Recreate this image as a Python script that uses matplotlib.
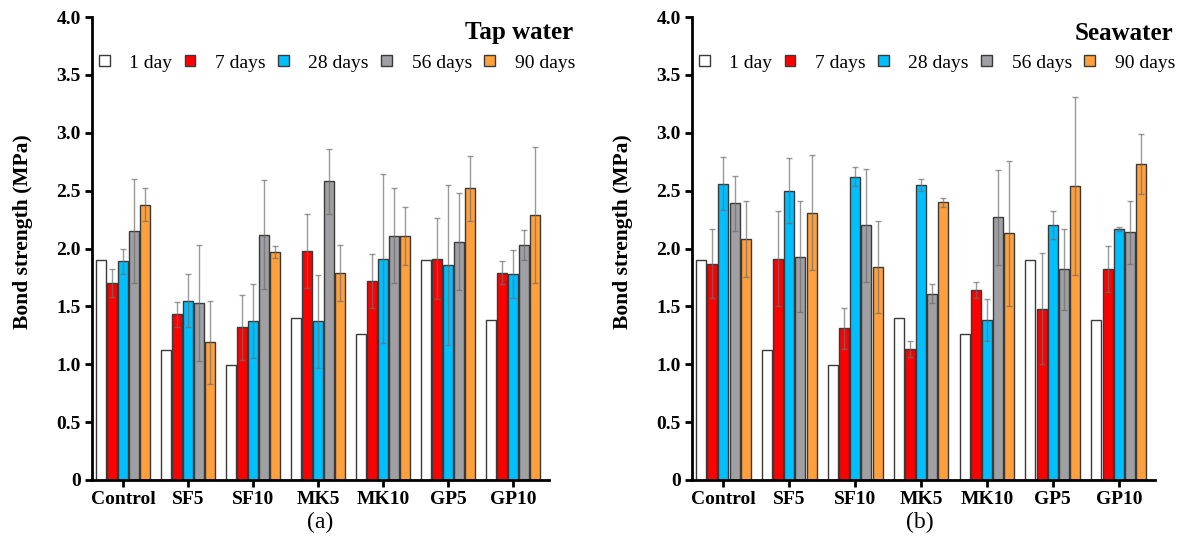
import numpy as np
import matplotlib
matplotlib.use('Agg')
import matplotlib.pyplot as plt

# 字体：Times 风格
plt.rcParams['font.family'] = ['Liberation Serif', 'DejaVu Serif']

# 数据
groups = ['Control', 'SF5', 'SF10', 'MK5', 'MK10', 'GP5', 'GP10']
ages = ['1 day', '7 days', '28 days', '56 days', '90 days']
colors = ['#ffffff', '#ff0000', '#00bfff', '#a0a0a4', '#ffa03c']

# (a) Tap water
tap_1d = [1.90, 1.12, 0.99, 1.40, 1.26, 1.90, 1.38]
tap_7d = [1.70, 1.43, 1.32, 1.98, 1.72, 1.91, 1.79]
tap_28d = [1.89, 1.55, 1.37, 1.37, 1.91, 1.86, 1.78]
tap_56d = [2.15, 1.53, 2.12, 2.58, 2.11, 2.06, 2.03]
tap_90d = [2.38, 1.19, 1.97, 1.79, 2.11, 2.52, 2.29]
tap_err_7d = [0.12, 0.11, 0.28, 0.32, 0.23, 0.35, 0.10]
tap_err_28d = [0.11, 0.23, 0.32, 0.40, 0.73, 0.69, 0.21]
tap_err_56d = [0.45, 0.50, 0.47, 0.28, 0.41, 0.42, 0.13]
tap_err_90d = [0.14, 0.36, 0.05, 0.24, 0.25, 0.28, 0.59]

# (b) Seawater
sea_1d = [1.90, 1.12, 0.99, 1.40, 1.26, 1.90, 1.38]
sea_7d = [1.87, 1.91, 1.31, 1.13, 1.64, 1.48, 1.82]
sea_28d = [2.56, 2.50, 2.62, 2.55, 1.38, 2.20, 2.17]
sea_56d = [2.39, 1.93, 2.20, 1.61, 2.27, 1.82, 2.14]
sea_90d = [2.08, 2.31, 1.84, 2.40, 2.13, 2.54, 2.73]
sea_err_7d = [0.30, 0.41, 0.18, 0.07, 0.07, 0.48, 0.20]
sea_err_28d = [0.23, 0.28, 0.08, 0.05, 0.18, 0.12, 0.02]
sea_err_56d = [0.24, 0.48, 0.49, 0.08, 0.41, 0.35, 0.27]
sea_err_90d = [0.33, 0.50, 0.40, 0.04, 0.63, 0.77, 0.26]

yticks = [0, 0.5, 1.0, 1.5, 2.0, 2.5, 3.0, 3.5, 4.0]
ytick_labels = ['0', '0.5', '1.0', '1.5', '2.0', '2.5', '3.0', '3.5', '4.0']


def draw_panel(ax, values, errors, title, tag, fig):
    x = np.arange(len(groups))
    step = 0.17
    handles = []
    for i, (vals, err) in enumerate(zip(values, errors)):
        pos = x + (i - 2) * step
        b = ax.bar(pos, vals, width=0.152, color=colors[i], edgecolor='#3a3a3a',
                   linewidth=1.0, zorder=2, label=ages[i])
        handles.append(b)
        if err is not None:
            ax.errorbar(pos, vals, yerr=err, fmt='none', ecolor='#6e6e6e',
                        elinewidth=1.0, capsize=2, capthick=1.0, alpha=0.7, zorder=3)

    ax.set_xlim(-0.475, 6.55)
    ax.set_ylim(0, 4.0)
    ax.set_xticks(x)
    ax.set_xticklabels(groups, fontsize=14, fontweight='bold')
    ax.set_yticks(yticks)
    ax.set_yticklabels(ytick_labels, fontsize=14, fontweight='bold')
    for s in ['top', 'right']:
        ax.spines[s].set_visible(False)
    for s in ['left', 'bottom']:
        ax.spines[s].set_linewidth(2.0)
    ax.tick_params(axis='both', direction='out', length=5, width=2.0, pad=3)

    # 文字位置
    pos_ax = ax.get_position()
    fig.text(pos_ax.x0 - 69 / 1185, 1 - 232 / 551, 'Bond strength (MPa)', rotation=90,
             ha='center', va='center', fontsize=15.5, fontweight='bold')
    fig.text(pos_ax.x0 + 481 / 1185, 1 - 33 / 551, title, ha='right', va='center',
             fontsize=18, fontweight='bold')
    fig.text(pos_ax.x0 + 228 / 1185, 1 - 522 / 551, tag, ha='center', va='center',
             fontsize=17)

    leg = ax.legend(handles=handles, loc='center right',
                    bbox_to_anchor=(pos_ax.x0 + 483 / 1185, 1 - 63 / 551),
                    bbox_transform=fig.transFigure, ncol=5, frameon=False,
                    fontsize=14, handlelength=0.55, handleheight=0.55,
                    handletextpad=1.0, columnspacing=0.65, borderaxespad=0,
                    borderpad=0)
    return leg


fig = plt.figure(figsize=(11.85, 5.51), dpi=100)
ax1 = fig.add_axes([92 / 1185, 1 - 480 / 551, 457 / 1185, 463 / 551])
ax2 = fig.add_axes([692 / 1185, 1 - 480 / 551, 463 / 1185, 463 / 551])

draw_panel(ax1, [tap_1d, tap_7d, tap_28d, tap_56d, tap_90d],
           [None, tap_err_7d, tap_err_28d, tap_err_56d, tap_err_90d],
           'Tap water', '(a)', fig)
draw_panel(ax2, [sea_1d, sea_7d, sea_28d, sea_56d, sea_90d],
           [None, sea_err_7d, sea_err_28d, sea_err_56d, sea_err_90d],
           'Seawater', '(b)', fig)

plt.savefig('out.png', dpi=100)
